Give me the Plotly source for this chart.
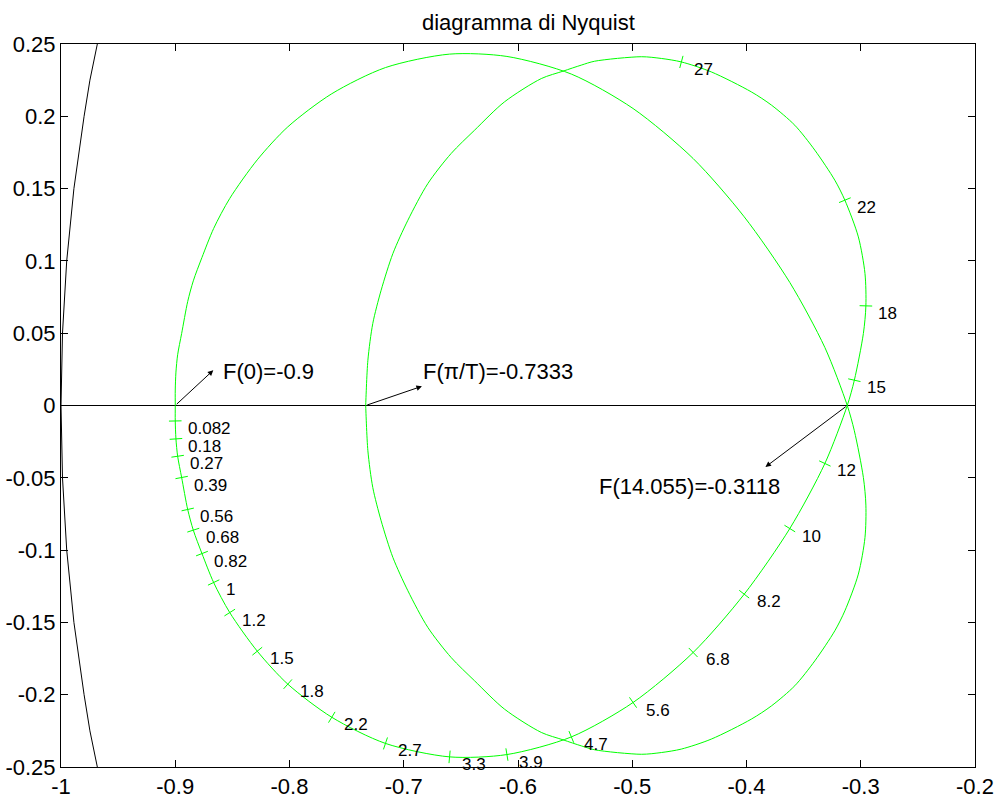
import math
import plotly.graph_objects as go

# ---------------- data ----------------
# positive-frequency branch of F(e^{jwT}), from w = 0 to w = pi/T
curve_re = [-0.9000, -0.9000, -0.8994, -0.8979, -0.8944, -0.8891, -0.8842, -0.8766, -0.8664,
            -0.8523, -0.8282, -0.8015, -0.7630, -0.7160, -0.6599, -0.6097, -0.5533, -0.4993,
            -0.4467, -0.4020, -0.3621, -0.3314, -0.3118, -0.3056, -0.2977, -0.2955, -0.2963,
            -0.3021, -0.3139, -0.3227, -0.3402, -0.3577, -0.3781, -0.3958, -0.4308, -0.4570,
            -0.4745, -0.4920, -0.5329, -0.5446, -0.5606, -0.5796, -0.6118, -0.6380, -0.6585,
            -0.6789, -0.6964, -0.7095, -0.7198, -0.7271, -0.7314, -0.7333]
curve_im = [0.0, -0.0107, -0.0231, -0.0351, -0.0498, -0.0719, -0.0862, -0.1024, -0.1224,
            -0.1432, -0.1699, -0.1927, -0.2156, -0.2337, -0.2430, -0.2414, -0.2292, -0.2054,
            -0.1708, -0.1305, -0.0851, -0.0401, 0.0, 0.0175, 0.0498, 0.0689, 0.0913,
            0.1166, 0.1420, 0.1558, 0.1766, 0.1938, 0.2077, 0.2169, 0.2307, 0.2376,
            0.2400, 0.2412, 0.2381, 0.2354, 0.2312, 0.2261, 0.2100, 0.1904, 0.1743,
            0.1535, 0.1281, 0.1051, 0.0797, 0.0567, 0.0313, 0.0]

# frequency marks along the positive branch
tick_labels = ["0.082", "0.18", "0.27", "0.39", "0.56", "0.68", "0.82", "1", "1.2", "1.5",
               "1.8", "2.2", "2.7", "3.3", "3.9", "4.7", "5.6", "6.8", "8.2", "10", "12",
               "15", "18", "22", "27"]
tick_re = [-0.9000, -0.8994, -0.8979, -0.8944, -0.8891, -0.8842, -0.8766, -0.8664, -0.8523,
           -0.8282, -0.8015, -0.7630, -0.7160, -0.6599, -0.6097, -0.5533, -0.4993, -0.4467,
           -0.4020, -0.3621, -0.3314, -0.3056, -0.2955, -0.3139, -0.4570]
tick_im = [-0.0107, -0.0231, -0.0351, -0.0498, -0.0719, -0.0862, -0.1024, -0.1224, -0.1432,
           -0.1699, -0.1927, -0.2156, -0.2337, -0.2430, -0.2414, -0.2292, -0.2054, -0.1708,
           -0.1305, -0.0851, -0.0401, 0.0175, 0.0689, 0.1420, 0.2376]

# unit circle (black reference curve on the left)
unit_re = [-0.9682, -0.9747, -0.9798, -0.9887, -0.9950, -0.9987, -1.0000,
           -0.9987, -0.9950, -0.9887, -0.9798, -0.9747, -0.9682]
unit_im = [0.25, 0.225, 0.2, 0.15, 0.1, 0.05, 0.0, -0.05, -0.1, -0.15, -0.2, -0.225, -0.25]

# real axis line
axis_re = [-1.0, -0.2]
axis_im = [0.0, 0.0]

# special points
F0 = -0.9
Fpi = -0.7333
Fcross = -0.3118
w_cross = "14.055"

x_tickvals = [-1, -0.9, -0.8, -0.7, -0.6, -0.5, -0.4, -0.3, -0.2]
x_ticktext = ["-1", "-0.9", "-0.8", "-0.7", "-0.6", "-0.5", "-0.4", "-0.3", "-0.2"]
y_tickvals = [-0.25, -0.2, -0.15, -0.1, -0.05, 0, 0.05, 0.1, 0.15, 0.2, 0.25]
y_ticktext = ["-0.25", "-0.2", "-0.15", "-0.1", "-0.05", "0", "0.05", "0.1", "0.15", "0.2", "0.25"]

title_text = "diagramma di Nyquist"

# ---------------- figure ----------------
FONT = "Liberation Sans, Arial, Helvetica, sans-serif"
GREEN = "#00ff00"
W, H = 997, 799
L, R, T, B = 61, 22, 44, 32
XR = [-1.0, -0.2]
YR = [-0.25, 0.25]
sx = (W - L - R) / (XR[1] - XR[0])
sy = (H - T - B) / (YR[1] - YR[0])

# full closed curve: positive branch + mirrored (negative frequency) branch
full_re = list(curve_re) + list(reversed(curve_re))
full_im = list(curve_im) + [-v for v in reversed(curve_im)]

# orientation of the small frequency marks (perpendicular to curve)
angles = []
for tr, ti in zip(tick_re, tick_im):
    k = min(range(len(curve_re)), key=lambda i: (curve_re[i] - tr) ** 2 + (curve_im[i] - ti) ** 2)
    a = max(k - 1, 0)
    b = min(k + 1, len(curve_re) - 1)
    dx = (curve_re[b] - curve_re[a]) * sx
    dy = -(curve_im[b] - curve_im[a]) * sy
    angles.append(math.degrees(math.atan2(dy, dx)))

fig = go.Figure()
fig.add_trace(go.Scatter(x=unit_re, y=unit_im, mode="lines",
                         line=dict(color="black", width=1), hoverinfo="skip"))
fig.add_trace(go.Scatter(x=axis_re, y=axis_im, mode="lines",
                         line=dict(color="black", width=1), hoverinfo="skip"))
fig.add_trace(go.Scatter(x=full_re, y=full_im, mode="lines",
                         line=dict(color=GREEN, width=1, shape="spline", smoothing=0.8)))
fig.add_trace(go.Scatter(x=tick_re, y=tick_im, mode="markers",
                         marker=dict(symbol="line-ns", size=9, angle=angles,
                                     line=dict(color=GREEN, width=1))))

annotations = []
for lab, tr, ti in zip(tick_labels, tick_re, tick_im):
    annotations.append(dict(x=tr, y=ti, xref="x", yref="y", text=lab, showarrow=False,
                            xanchor="left", yanchor="middle", xshift=12.5, yshift=-7.5,
                            borderpad=0, borderwidth=0,
                            font=dict(family=FONT, size=17, color="black")))

# arrows (head pointing away from the curve, towards the text)
arrow_specs = [
    (F0, 0.0, -0.8667, 0.0244),
    (Fpi, 0.0, -0.6841, 0.0133),
    (Fcross, 0.0, -0.3834, -0.0425),
]
for x0, y0, x1, y1 in arrow_specs:
    annotations.append(dict(x=x1, y=y1, ax=x0, ay=y0, xref="x", yref="y", axref="x", ayref="y",
                            text="", showarrow=True, arrowhead=2, arrowsize=1.1,
                            arrowwidth=1, arrowcolor="black", standoff=0, startstandoff=0))

annotations += [
    dict(x=-0.8585, y=0.0232, xref="x", yref="y", text="F(0)=%g" % F0, showarrow=False,
         xanchor="left", yanchor="middle", xshift=-2, font=dict(family=FONT, size=22, color="black")),
    dict(x=-0.6833, y=0.0232, xref="x", yref="y", text="F(π/T)=%.4f" % Fpi, showarrow=False,
         xanchor="left", yanchor="middle", xshift=-2, font=dict(family=FONT, size=22, color="black")),
    dict(x=-0.5294, y=-0.0563, xref="x", yref="y", text="F(%s)=%.4f" % (w_cross, Fcross),
         showarrow=False, xanchor="left", yanchor="middle", xshift=-2,
         font=dict(family=FONT, size=22, color="black")),
    dict(x=0.511, y=1.0, xref="paper", yref="paper", text=title_text, showarrow=False,
         xanchor="center", yanchor="bottom", yshift=7, font=dict(family=FONT, size=22, color="black")),
]

axis_common = dict(showgrid=False, zeroline=False, showline=True, linecolor="black", linewidth=1,
                   ticks="inside", ticklen=7, tickwidth=1, tickcolor="black", mirror="ticks",
                   automargin=False,
                   tickfont=dict(family=FONT, size=22, color="black"))

fig.update_layout(
    width=W, height=H,
    margin=dict(l=L, r=R, t=T, b=B, pad=0),
    paper_bgcolor="white", plot_bgcolor="white",
    showlegend=False,
    annotations=annotations,
    xaxis=dict(range=XR, tickvals=x_tickvals, ticktext=x_ticktext, **axis_common),
    yaxis=dict(range=YR, tickvals=y_tickvals, ticktext=y_ticktext, **axis_common),
)

fig.write_html("out.html")
